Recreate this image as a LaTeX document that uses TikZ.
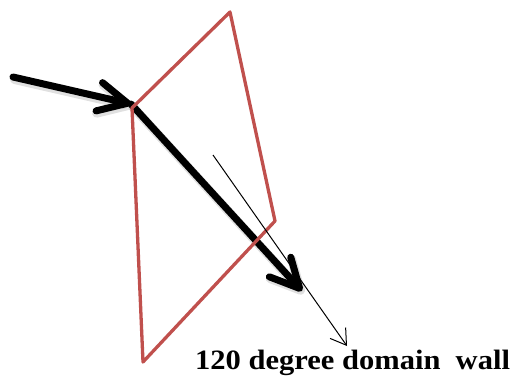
\documentclass[tikz,border=0pt]{standalone}
\usepackage{fontspec}
\setmainfont{Liberation Serif}
\usetikzlibrary{arrows.meta}
\tikzset{
  wallline/.style={draw={rgb,255:red,192;green,80;blue,77}, line width=3.3pt, line join=round, line cap=round},
  thickarrow/.style={draw=black, line width=7pt, line cap=round, line join=round,
    -{Straight Barb[length=29pt, width=29pt, round]}},
  thickshadow/.style={draw=black!35, opacity=0.35, line width=9pt, line cap=round, line join=round,
    -{Straight Barb[length=29pt, width=29pt, round]}},
  thinarrow/.style={draw=black, line width=1pt, -{Straight Barb[length=15pt, width=19pt]}},
  caption/.style={font=\bfseries\fontsize{28}{30}\selectfont, inner sep=0pt, xscale=1.09, anchor=base west}
}
\begin{document}
\begin{tikzpicture}[x=1pt, y=-1pt]
\useasboundingbox (0,0) rectangle (516,381);
% coordinates
\coordinate (s1) at (13,77);
\coordinate (k) at (131,104);
\coordinate (e2) at (302,291);
\coordinate (t0) at (213,155);
\coordinate (t1) at (347,346);
\coordinate (qt) at (230,12);
\coordinate (ql) at (132,108);
\coordinate (qb) at (143,362);
\coordinate (qr) at (275,221);
% soft shadows
\path[thickshadow] ([shift={(1.5,2.5)}]s1) -- ([shift={(1.5,2.5)}]k);
\path[thickshadow] ([shift={(1.5,2.5)}]k) -- ([shift={(1.5,2.5)}]e2);
% thick arrows
\path[thickarrow] (s1) -- (k);
\path[thickarrow] (k) -- (e2);
% domain wall
\path[wallline] (ql) -- (qt) -- (qr) -- (qb) -- cycle;
% thin arrow
\path[thinarrow] (t0) -- (t1);
% caption
\node[caption] (cap) at (195,369) {120 degree domain~~wall};
\end{tikzpicture}
\end{document}
